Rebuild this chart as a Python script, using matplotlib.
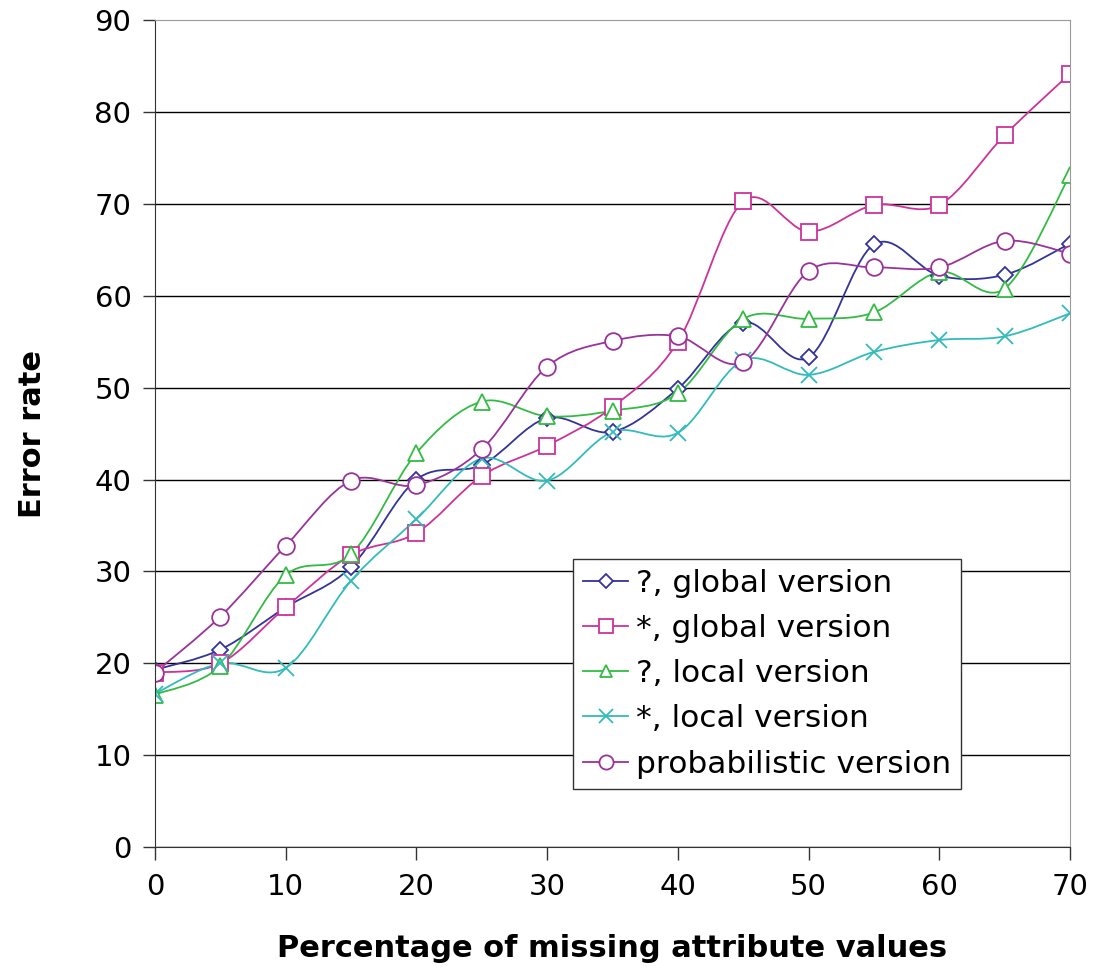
import matplotlib
matplotlib.use("Agg")
import matplotlib.pyplot as plt
from matplotlib.path import Path
from matplotlib.patches import PathPatch
from matplotlib.lines import Line2D

plt.rcParams['font.family'] = ['DejaVu Sans']

# percentage of missing attribute values
pct = [0, 5, 10, 15, 20, 25, 30, 35, 40, 45, 50, 55, 60, 65, 70]

# error rates per method
q_global = [19.3, 21.5, 26.1, 30.5, 40.0, 41.6, 46.7, 45.2, 49.9, 57.1, 53.3, 65.6, 62.2, 62.3, 65.7]
s_global = [19.0, 20.0, 26.1, 31.8, 34.2, 40.4, 43.7, 47.9, 55.0, 70.3, 67.0, 69.9, 69.9, 77.5, 84.2]
q_local = [16.6, 19.7, 29.6, 31.9, 42.9, 48.5, 46.9, 47.5, 49.4, 57.5, 57.5, 58.2, 62.6, 60.8, 73.2]
s_local = [16.7, 20.0, 19.5, 29.0, 35.7, 42.3, 39.9, 45.2, 45.1, 53.0, 51.4, 53.9, 55.2, 55.6, 58.1]
prob = [19.0, 25.1, 32.8, 39.9, 39.4, 43.3, 52.3, 55.1, 55.6, 52.8, 62.7, 63.1, 63.1, 66.0, 64.6]

names = ['?, global version', '*, global version', '?, local version',
         '*, local version', 'probabilistic version']
colors = ['#333399', '#CC3399', '#33BB44', '#33BBBB', '#993399']
markers = ['D', 's', '^', 'x', 'o']
msizes = [8, 12, 11, 12, 12]


def smooth_path(xs, ys):
    # cubic bezier through the points, Excel style smoothing
    n = len(xs)
    verts = [(xs[0], ys[0])]
    codes = [Path.MOVETO]
    for i in range(n - 1):
        x0, y0 = xs[max(i - 1, 0)], ys[max(i - 1, 0)]
        x1, y1 = xs[i], ys[i]
        x2, y2 = xs[i + 1], ys[i + 1]
        x3, y3 = xs[min(i + 2, n - 1)], ys[min(i + 2, n - 1)]
        c1 = (x1 + (x2 - x0) / 6, y1 + (y2 - y0) / 6)
        c2 = (x2 - (x3 - x1) / 6, y2 - (y3 - y1) / 6)
        verts += [c1, c2, (x2, y2)]
        codes += [Path.CURVE4] * 3
    return Path(verts, codes)


fig = plt.figure(figsize=(10.93, 9.67), dpi=100)
ax = fig.add_axes([0.1418, 0.124, 0.8372, 0.855])

series = [q_global, s_global, q_local, s_local, prob]
handles = []
for vals, name, c, m, ms in zip(series, names, colors, markers, msizes):
    ax.add_patch(PathPatch(smooth_path(pct, vals), fill=False, edgecolor=c, lw=1.3))
    if m == 'x':
        ax.plot(pct, vals, ls='none', marker=m, ms=ms, mew=1.3, color=c)
    else:
        ax.plot(pct, vals, ls='none', marker=m, ms=ms, mew=1.3, mec=c, mfc='white')
    handles.append(Line2D([], [], color=c, lw=1.3, marker=m, ms=ms * 0.85, mew=1.3,
                          mec=c, mfc='white'))

ax.set_xlim(0, 70)
ax.set_ylim(0, 90)
ax.set_xticks(range(0, 71, 10))
ax.set_yticks(range(0, 91, 10))
ax.yaxis.grid(True, color='black', lw=1)
ax.yaxis.get_gridlines()[-1].set_visible(False)
ax.set_axisbelow(True)
ax.tick_params(labelsize=21, length=9, width=1, color='#333333', direction='out', pad=8)
ax.tick_params(axis='x', pad=9.5)
for s in ['top', 'right']:
    ax.spines[s].set_color('#999999')
for s in ['left', 'bottom']:
    ax.spines[s].set_color('#333333')

ax.set_xlabel('Percentage of missing attribute values', fontsize=22, fontweight='bold', labelpad=24)
ax.set_ylabel('Error rate', fontsize=22, fontweight='bold', labelpad=34)

leg = ax.legend(handles, names, loc='upper left', bbox_to_anchor=(0.457, 0.349),
                fontsize=22.5, frameon=True, fancybox=False, borderaxespad=0,
                handlelength=1.45, handletextpad=0.25, labelspacing=0.52,
                borderpad=0.32, framealpha=1)
leg.get_frame().set_edgecolor('#333333')
leg.get_frame().set_linewidth(1)

fig.savefig('out.png', dpi=100, facecolor='white')
